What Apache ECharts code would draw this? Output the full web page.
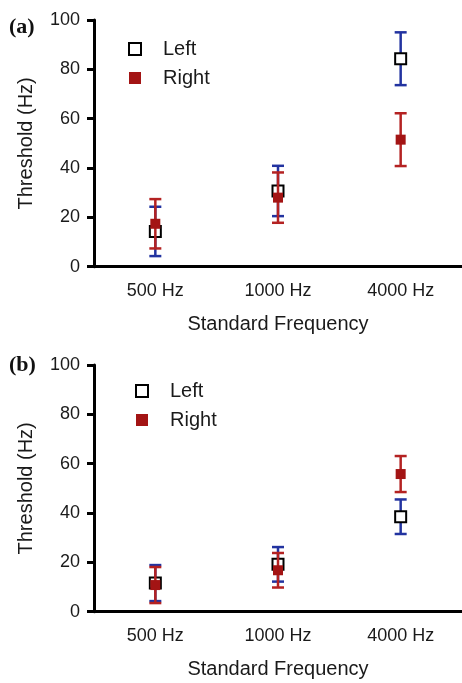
<!DOCTYPE html>
<html>
<head>
<meta charset="utf-8">
<script src="https://cdn.jsdelivr.net/npm/echarts@6/dist/echarts.min.js"></script>
<style>html,body{margin:0;padding:0;background:#fff}#c{width:462px;height:683px}</style>
</head>
<body>
<div id="c"></div>
<script>
// ---- data ----
var categories = ['500 Hz', '1000 Hz', '4000 Hz'];
var yTicks = [0, 20, 40, 60, 80, 100];
// panel (a)
var leftMeanA = [14.3, 30.7, 84.3];
var leftErrA = [10.0, 10.2, 10.7];
var rightMeanA = [17.4, 28.0, 51.5];
var rightErrA = [10.0, 10.2, 10.7];
// panel (b)
var leftMeanB = [11.6, 19.2, 38.5];
var leftErrB = [7.3, 7.0, 7.0];
var rightMeanB = [10.8, 16.8, 55.8];
var rightErrB = [7.3, 7.0, 7.3];
var panelLabels = ['(a)', '(b)'];
var seriesNames = ['Left', 'Right'];

// ---- styles ----
var BLUE = '#2233a0';
var RED = '#b42222';
var FILL = '#a31414';
var TXT = '#1a1a1a';
var FONT = '"Liberation Sans", Arial, sans-serif';

var chart = echarts.init(document.getElementById('c'), null, {renderer: 'canvas'});

function errData(means, errs) {
  return means.map(function (m, i) { return [i, m, errs[i]]; });
}
function errRender(color) {
  return function (params, api) {
    var x = api.value(0), m = api.value(1), e = api.value(2);
    var top = api.coord([x, m + e]);
    var bot = api.coord([x, m - e]);
    var hw = 6;
    var st = {stroke: color, lineWidth: 2.5};
    return {
      type: 'group',
      children: [
        {type: 'line', shape: {x1: top[0], y1: top[1], x2: bot[0], y2: bot[1]}, style: st},
        {type: 'line', shape: {x1: top[0] - hw, y1: top[1], x2: top[0] + hw, y2: top[1]}, style: st},
        {type: 'line', shape: {x1: bot[0] - hw, y1: bot[1], x2: bot[0] + hw, y2: bot[1]}, style: st}
      ]
    };
  };
}

var grids = [
  {left: 94, width: 370, top: 20, height: 246.7},
  {left: 94, width: 370, top: 365, height: 246.7}
];

function xAxisFor(i) {
  return {
    type: 'category', gridIndex: i, data: categories, boundaryGap: true,
    name: 'Standard Frequency', nameLocation: 'middle', nameGap: 48,
    nameTextStyle: {fontSize: 20, color: TXT, fontFamily: FONT},
    axisLine: {lineStyle: {color: '#000', width: 3}},
    axisTick: {alignWithLabel: true, length: 7, lineStyle: {color: '#000', width: 3}},
    axisLabel: {fontSize: 18, color: TXT, fontFamily: FONT, margin: 15},
    splitLine: {show: false}
  };
}
function yAxisFor(i) {
  return {
    type: 'value', gridIndex: i, min: yTicks[0], max: yTicks[yTicks.length - 1], interval: yTicks[1] - yTicks[0],
    name: 'Threshold (Hz)', nameLocation: 'middle', nameGap: 58, nameRotate: 90,
    nameTextStyle: {fontSize: 20, color: TXT, fontFamily: FONT},
    axisLine: {show: true, lineStyle: {color: '#000', width: 3}},
    axisTick: {show: true, length: 7, lineStyle: {color: '#000', width: 3}},
    axisLabel: {fontSize: 18, color: TXT, fontFamily: FONT, margin: 14},
    splitLine: {show: false}
  };
}

var leftSym = {symbol: 'rect', symbolSize: 11, itemStyle: {color: '#fff', borderColor: '#000', borderWidth: 2, opacity: 1}};
var rightSym = {symbol: 'rect', symbolSize: 10, itemStyle: {color: FILL, borderWidth: 0, opacity: 1}};

function panelSeries(i, lm, le, rm, re) {
  return [
    {type: 'custom', xAxisIndex: i, yAxisIndex: i, data: errData(lm, le), renderItem: errRender(BLUE), z: 2, silent: true},
    Object.assign({type: 'scatter', name: seriesNames[0], xAxisIndex: i, yAxisIndex: i, data: lm, z: 3}, leftSym),
    {type: 'custom', xAxisIndex: i, yAxisIndex: i, data: errData(rm, re), renderItem: errRender(RED), z: 4, silent: true},
    Object.assign({type: 'scatter', name: seriesNames[1], xAxisIndex: i, yAxisIndex: i, data: rm, z: 5}, rightSym)
  ];
}

var series = panelSeries(0, leftMeanA, leftErrA, rightMeanA, rightErrA)
  .concat(panelSeries(1, leftMeanB, leftErrB, rightMeanB, rightErrB));

function legendFor(i, left, top) {
  return {
    orient: 'vertical', left: left, top: top, itemGap: 9,
    itemWidth: 12, itemHeight: 12,
    seriesIndex: [i * 4 + 1, i * 4 + 3],
    data: seriesNames,
    textStyle: {fontSize: 20, color: TXT, fontFamily: FONT, padding: [0, 0, 0, 17]},
    selectedMode: false
  };
}

var option = {
  animation: false,
  backgroundColor: '#fff',
  grid: grids,
  xAxis: [xAxisFor(0), xAxisFor(1)],
  yAxis: [yAxisFor(0), yAxisFor(1)],
  legend: [legendFor(0, 123, 34), legendFor(1, 130, 376)],
  graphic: [
    {type: 'text', left: 9, top: 16, style: {text: panelLabels[0], fontSize: 22, fontWeight: 'bold', fontFamily: '"Liberation Serif", "Times New Roman", serif', fill: '#111'}},
    {type: 'text', left: 9, top: 354, style: {text: panelLabels[1], fontSize: 22, fontWeight: 'bold', fontFamily: '"Liberation Serif", "Times New Roman", serif', fill: '#111'}}
  ],
  series: series
};
chart.setOption(option);
</script>
</body>
</html>
